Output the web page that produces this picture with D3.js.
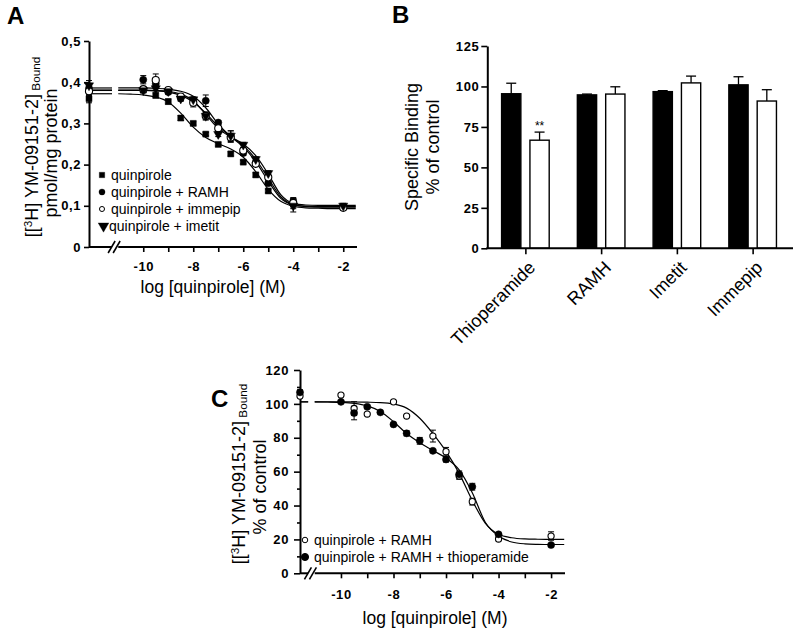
<!DOCTYPE html>
<html><head><meta charset="utf-8">
<script src="https://cdn.jsdelivr.net/npm/d3@7"></script>
<style>
body{margin:0;background:#fff}
svg{font-family:Arial,"Liberation Sans",Helvetica,sans-serif}
</style>
</head><body>
<svg id="c" width="800" height="639"></svg>
<script>
// ================= DATA =================
// Panel A : concentration-response (log M), "control" = no quinpirole
const aConc = ["control", -10, -9.5, -9, -8.5, -8, -7.5, -7, -6.5, -6, -5.5, -5, -4, -2];
const aQuin      = [0.360, 0.381, 0.368, 0.353, 0.313, 0.300, 0.274, 0.249, 0.226, 0.206, 0.175, 0.136, 0.110, 0.098];
const aQuinErr   = [0.010, 0.006, 0.006, 0.006, 0.006, 0.004, 0.004, 0.004, 0.005, 0.004, 0.005, 0.004, 0.010, 0.006];
const aRamh      = [0.385, 0.406, 0.396, 0.376, 0.361, 0.357, 0.355, 0.302, 0.268, 0.228, 0.205, 0.155, 0.105, 0.097];
const aRamhErr   = [0.012, 0.010, 0.008, 0.005, 0.006, 0.005, 0.014, 0.005, 0.014, 0.006, 0.005, 0.005, 0.012, 0.005];
const aImmepip   = [0.378, 0.383, 0.405, 0.381, 0.365, 0.350, 0.318, 0.288, 0.266, 0.234, 0.202, 0.169, 0.107, 0.095];
const aImmepipErr= [0.010, 0.006, 0.015, 0.004, 0.006, 0.010, 0.010, 0.006, 0.010, 0.006, 0.005, 0.006, 0.010, 0.005];
const aImetit    = [0.392, 0.380, 0.385, 0.378, 0.360, 0.358, 0.318, 0.274, 0.270, 0.248, 0.213, 0.179, 0.100, 0.100];
const aImetitErr = [0.012, 0.006, 0.006, 0.005, 0.006, 0.006, 0.008, 0.006, 0.012, 0.006, 0.006, 0.006, 0.015, 0.006];

// fitted curves
const fitLogs = [-11, -10.5, -10, -9.5, -9, -8.5, -8, -7.5, -7, -6.5, -6, -5.5, -5, -4.5, -4, -3.5, -3, -2.5, -2, -1.5];
const aFitQuin    = [0.372,0.371,0.369,0.364,0.352,0.325,0.291,0.266,0.251,0.238,0.218,0.183,0.140,0.111,0.099,0.095,0.094,0.093,0.093,0.093];
const aFitRamh    = [0.386,0.386,0.386,0.385,0.383,0.378,0.366,0.338,0.298,0.268,0.243,0.207,0.160,0.118,0.102,0.098,0.097,0.097,0.097,0.097];
const aFitImmepip = [0.380,0.380,0.380,0.379,0.376,0.368,0.352,0.325,0.293,0.268,0.246,0.213,0.167,0.122,0.103,0.099,0.098,0.098,0.098,0.098];
const aFitImetit  = [0.381,0.381,0.381,0.380,0.378,0.371,0.355,0.322,0.288,0.267,0.250,0.222,0.177,0.127,0.106,0.102,0.101,0.101,0.101,0.101];

const aLegend = ["quinpirole", "quinpirole + RAMH", "quinpirole + immepip", "quinpirole + imetit"];
const aYTicks = [0, 0.1, 0.2, 0.3, 0.4, 0.5];
const xLogTicks = [-10, -9, -8, -7, -6, -5, -4, -3, -2];

// Panel B : bars
const bGroups = ["Thioperamide", "RAMH", "Imetit", "Immepip"];
const bBlack    = [95.5, 94.8, 96.8, 101.0];
const bBlackErr = [6.5, 0.5, 0.6, 5.0];
const bWhite    = [66.8, 95.3, 102.2, 91.0];
const bWhiteErr = [5.0, 4.5, 4.2, 7.0];
const bYTicks = [0, 25, 50, 75, 100, 125];

// Panel C
const cConc = ["control", -10, -9.5, -9, -8.5, -8, -7.5, -7, -6.5, -6, -5.5, -5, -4, -2];
const cRamh      = [104.6, 105.2, 97.3, 94.0, null, 101.2, 92.8, null, 81.0, 71.8, 57.5, 42.3, 20.2, 22.0];
const cRamhErr   = [0, 0, 4, 0, 0, 0, 0, 0, 3.5, 2.5, 2, 2, 1, 2.5];
const cThio      = [106.8, 101.2, 94.6, 98.3, 95.0, 87.9, 82.6, 78.2, 72.3, 67.2, 58.4, 51.1, 23.0, 16.7];
const cThioErr   = [1.5, 0, 4, 1, 0, 0, 1.5, 2, 0, 1.5, 2, 2, 0, 0];
const cFitRamh = [101.2,101.2,101.2,101.1,101.0,100.8,100.0,97.5,91.5,82.5,72.0,59.0,43.0,29.5,23.0,21.0,20.3,20.1,20.0,20.0];
const cFitThio = [101.2,101.1,100.9,100.3,98.8,95.5,89.5,82.5,77.0,72.5,68.0,61.0,47.5,30.0,22.0,18.5,17.4,17.1,17.0,17.0];
const cLegend = ["quinpirole + RAMH", "quinpirole + RAMH + thioperamide"];
const cYTicks = [0, 20, 40, 60, 80, 100, 120];
const cYMinor = [10, 30, 50, 70, 90, 110];

// ================= DRAW =================
const svg = d3.select("#c");

function styleAxis(g, sw) {
  g.selectAll("path.domain").attr("stroke", "#000").attr("stroke-width", sw || 2);
  g.selectAll(".tick line").attr("stroke", "#000").attr("stroke-width", 1.6);
  g.selectAll(".tick text").attr("fill", "#000").style("font-size", "13px")
    .style("font-weight", "bold").style("letter-spacing", "0.6px")
    .style("font-family", "Arial, 'Liberation Sans', sans-serif");
}

function breakMarks(g, cx, y) {
  [0, 5].forEach(o => {
    g.append("line").attr("x1", cx - 8 + o).attr("y1", y + 6).attr("x2", cx - 1 + o).attr("y2", y - 6)
      .attr("stroke", "#000").attr("stroke-width", 1.6);
  });
}

function logPanel(opts) {
  const {x, y, conc, series, fits, brk, yTicks, yFmt, yMinor, yTickSize, yPad, xPad} = opts;
  const g = svg.append("g");
  const x0 = x.range()[0], y0 = y.range()[0];
  const px = c => c === "control" ? x0 : x(c);
  const ya = g.append("g").attr("transform", `translate(${x0},0)`)
    .call(d3.axisLeft(y).tickValues(yTicks).tickFormat(yFmt).tickSize(yTickSize).tickSizeOuter(0).tickPadding(yPad));
  styleAxis(ya);
  if (yMinor) {
    const ym = g.append("g").attr("transform", `translate(${x0},0)`)
      .call(d3.axisLeft(y).tickValues(yMinor).tickFormat("").tickSize(3).tickSizeOuter(0));
    ym.select("path.domain").remove();
    styleAxis(ym);
  }
  const xa = g.append("g").attr("transform", `translate(0,${y0})`)
    .call(d3.axisBottom(x).tickValues(xLogTicks).tickFormat(d => d % 2 === 0 ? d3.format("d")(d).replace("−", "-") : "")
      .tickSize(5).tickSizeOuter(0).tickPadding(xPad));
  xa.select("path.domain").remove();
  styleAxis(xa);
  g.append("line").attr("x1", x0).attr("x2", x(brk[0])).attr("y1", y0).attr("y2", y0).attr("stroke", "#000").attr("stroke-width", 2);
  g.append("line").attr("x1", x(brk[1])).attr("x2", x.range()[1]).attr("y1", y0).attr("y2", y0).attr("stroke", "#000").attr("stroke-width", 2);
  breakMarks(g, (x(brk[0]) + x(brk[1])) / 2 + 1, y0);
  const line = d3.line().x(d => x(d[0])).y(d => y(d[1])).curve(d3.curveMonotoneX);
  fits.forEach(f => {
    g.append("path").attr("d", line(fitLogs.map((l, i) => [l, f[i]])))
      .attr("fill", "none").attr("stroke", "#000").attr("stroke-width", 1.2);
    g.append("line").attr("x1", x0).attr("x2", x(brk[0])).attr("y1", y(f[0])).attr("y2", y(f[0]))
      .attr("stroke", "#000").attr("stroke-width", 1.2);
  });
  series.forEach(s => {
    conc.forEach((c, i) => {
      const v = s.vals[i], e = s.err[i];
      if (v == null || !e) return;
      const cx = px(c);
      g.append("line").attr("x1", cx).attr("x2", cx).attr("y1", y(v - e)).attr("y2", y(v + e)).attr("stroke", "#000").attr("stroke-width", 1);
      [v - e, v + e].forEach(w => g.append("line").attr("x1", cx - 3).attr("x2", cx + 3).attr("y1", y(w)).attr("y2", y(w)).attr("stroke", "#000").attr("stroke-width", 1));
    });
  });
  series.forEach(s => {
    conc.forEach((c, i) => {
      const v = s.vals[i];
      if (v == null) return;
      g.append("path").attr("d", d3.symbol().type(s.type).size(s.size)())
        .attr("transform", `translate(${px(c)},${y(v)}) rotate(${s.rot || 0})`)
        .attr("fill", s.fill).attr("stroke", "#000").attr("stroke-width", s.fill === "#fff" ? 1.1 : 0.5);
    });
  });
  return g;
}

function yTitle(g, x1, x2, cy1, cy2, line2, fs) {
  const t1 = g.append("text").attr("transform", `translate(${x1},${cy1}) rotate(-90)`)
    .attr("text-anchor", "middle").style("font-size", fs + "px");
  t1.append("tspan").text("[[");
  t1.append("tspan").attr("dy", -6).style("font-size", (fs * 0.65) + "px").text("3");
  t1.append("tspan").attr("dy", 6).text("H] YM-09151-2]");
  t1.append("tspan").attr("dy", 2).style("font-size", (fs * 0.65) + "px").text(" Bound");
  g.append("text").attr("transform", `translate(${x2},${cy2}) rotate(-90)`)
    .attr("text-anchor", "middle").style("font-size", fs + "px").text(line2);
}

// ---------- Panel A ----------
const xA = d3.scaleLinear().domain([-12.17, -1.45]).range([89, 357]);
const yA = d3.scaleLinear().domain([0, 0.5]).range([247, 41]);
const aSeries = [
  {vals: aQuin, err: aQuinErr, type: d3.symbolSquare, size: 36, fill: "#000"},
  {vals: aRamh, err: aRamhErr, type: d3.symbolCircle, size: 40, fill: "#000"},
  {vals: aImmepip, err: aImmepipErr, type: d3.symbolCircle, size: 40, fill: "#fff"},
  {vals: aImetit, err: aImetitErr, type: d3.symbolTriangle, size: 36, fill: "#000", rot: 180}
];
const gA = logPanel({x: xA, y: yA, conc: aConc, series: aSeries,
  fits: [aFitQuin, aFitRamh, aFitImmepip, aFitImetit], brk: [-11.25, -11.0],
  yTicks: aYTicks, yFmt: d => d === 0 ? "0" : d3.format(".1f")(d).replace(".", ","),
  yTickSize: 5, yPad: 3, xPad: 10});

const legA = [
  {type: d3.symbolSquare, size: 30, fill: "#000", rot: 0},
  {type: d3.symbolCircle, size: 30, fill: "#000", rot: 0},
  {type: d3.symbolCircle, size: 20, fill: "#fff", rot: 0},
  {type: d3.symbolTriangle, size: 50, fill: "#000", rot: 180}
];
aLegend.forEach((t, i) => {
  const yy = 175 + i * 17;
  gA.append("path").attr("d", d3.symbol().type(legA[i].type).size(legA[i].size)())
    .attr("transform", `translate(${i === 3 ? 103.5 : 102},${yy}) rotate(${legA[i].rot})`)
    .attr("fill", legA[i].fill).attr("stroke", "#000").attr("stroke-width", legA[i].fill === "#fff" ? 1 : 0.3);
  gA.append("text").attr("x", i === 3 ? 109 : 111).attr("y", yy + 5).style("font-size", "14px").text(t);
});
yTitle(gA, 38, 57, 147, 153, "pmol/mg protein", 18);
gA.append("text").attr("x", 213).attr("y", 293).attr("text-anchor", "middle").style("font-size", "17.5px").text("log [quinpirole] (M)");
svg.append("text").attr("x", 7).attr("y", 24).style("font-size", "24px").style("font-weight", "bold").text("A");

// ---------- Panel B ----------
const gB = svg.append("g");
const xB = d3.scaleBand().domain(bGroups).range([488, 791]);
const xB1 = d3.scaleBand().domain(["black", "white"]).range([13.6, 61.2]).paddingInner(0.32);
const yB = d3.scaleLinear().domain([0, 125]).range([248.3, 46]);
const yaB = gB.append("g").attr("transform", "translate(487.3,0)")
  .call(d3.axisLeft(yB).tickValues(bYTicks).tickSize(6).tickSizeOuter(0).tickPadding(2));
styleAxis(yaB);
const bars = bGroups.map((grp, i) => [
  {grp, key: "black", v: bBlack[i], e: bBlackErr[i]},
  {grp, key: "white", v: bWhite[i], e: bWhiteErr[i]}
]).flat();
bars.forEach(d => {
  const bx = xB(d.grp) + xB1(d.key), bw = xB1.bandwidth();
  const cx = bx + bw / 2;
  gB.append("line").attr("x1", cx).attr("x2", cx).attr("y1", yB(d.v)).attr("y2", yB(d.v + d.e)).attr("stroke", "#000").attr("stroke-width", 1.3);
  gB.append("line").attr("x1", cx - 5).attr("x2", cx + 5).attr("y1", yB(d.v + d.e)).attr("y2", yB(d.v + d.e)).attr("stroke", "#000").attr("stroke-width", 1.3);
  gB.append("rect").attr("x", bx).attr("y", yB(d.v)).attr("width", bw).attr("height", yB(0) - yB(d.v))
    .attr("fill", d.key === "black" ? "#000" : "#fff").attr("stroke", "#000").attr("stroke-width", 1.4);
});
const xaB = gB.append("g").attr("transform", "translate(0,248.3)")
  .call(d3.axisBottom(xB).tickSize(6).tickSizeOuter(0).tickPadding(4));
xaB.select("path.domain").remove();
styleAxis(xaB);
gB.append("line").attr("x1", 486.3).attr("x2", 793).attr("y1", 248.3).attr("y2", 248.3).attr("stroke", "#000").attr("stroke-width", 2);
xaB.selectAll(".tick text").style("font-weight", "normal").style("font-size", "18px").style("letter-spacing", "0px")
  .attr("text-anchor", "end").attr("dy", "0.35em").attr("y", 0)
  .attr("transform", "translate(6,16) rotate(-45)");
{
  const d = bars[1];
  gB.append("text").attr("x", xB(d.grp) + xB1(d.key) + xB1.bandwidth() / 2).attr("y", yB(d.v + d.e) - 2)
    .attr("text-anchor", "middle").style("font-size", "12px").text("**");
}
gB.append("text").attr("transform", "translate(418,147) rotate(-90)").attr("text-anchor", "middle").style("font-size", "18px").text("Specific Binding");
gB.append("text").attr("transform", "translate(439,147) rotate(-90)").attr("text-anchor", "middle").style("font-size", "18px").text("% of control");
svg.append("text").attr("x", 392).attr("y", 23).style("font-size", "24px").style("font-weight", "bold").text("B");

// ---------- Panel C ----------
const xC = d3.scaleLinear().domain([-11.56, -1.47]).range([300, 565]);
const yC = d3.scaleLinear().domain([0, 120]).range([573.3, 370]);
const cSeries = [
  {vals: cRamh, err: cRamhErr, type: d3.symbolCircle, size: 30, fill: "#fff"},
  {vals: cThio, err: cThioErr, type: d3.symbolCircle, size: 40, fill: "#000"}
];
const gC = logPanel({x: xC, y: yC, conc: cConc, series: cSeries,
  fits: [cFitRamh, cFitThio], brk: [-11.25, -11.0],
  yTicks: cYTicks, yFmt: d3.format("d"), yMinor: cYMinor, yTickSize: 6, yPad: 5, xPad: 11});
const legC = [{size: 24, fill: "#fff"}, {size: 40, fill: "#000"}];
cLegend.forEach((t, i) => {
  const yy = 540 + i * 17;
  gC.append("path").attr("d", d3.symbol().type(d3.symbolCircle).size(legC[i].size)())
    .attr("transform", `translate(305,${yy})`).attr("fill", legC[i].fill).attr("stroke", "#000").attr("stroke-width", 1);
  gC.append("text").attr("x", 314).attr("y", yy + 5).style("font-size", "14px").text(t);
});
yTitle(gC, 245, 266, 474, 487, "% of control", 18);
gC.append("text").attr("x", 435).attr("y", 624).attr("text-anchor", "middle").style("font-size", "17.5px").text("log [quinpirole] (M)");
svg.append("text").attr("x", 211).attr("y", 407).style("font-size", "24px").style("font-weight", "bold").text("C");
</script>
</body></html>
